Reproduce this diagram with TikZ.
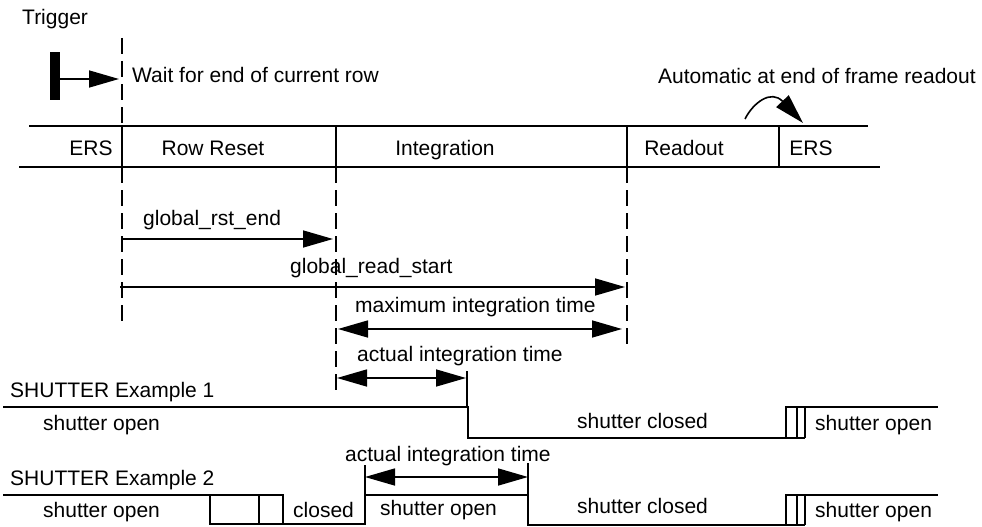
\documentclass[tikz,border=0pt]{standalone}
\usepackage{fontspec}
\setmainfont{Liberation Sans}
\usetikzlibrary{arrows.meta}
\tikzset{
  lbl/.style={inner sep=0pt, anchor=base west, font=\fontsize{21}{25}\selectfont},
  clbl/.style={inner sep=0pt, anchor=base, font=\fontsize{21}{25}\selectfont},
  ln/.style={line width=1.6pt},
  dsh/.style={line width=1.4pt, dash pattern=on 16pt off 7pt},
  arr/.style={ln, -{Triangle[length=30pt,width=17pt]}},
  darr/.style={ln, {Triangle[length=30pt,width=17pt]}-{Triangle[length=30pt,width=17pt]}},
}
\begin{document}
\begin{tikzpicture}[x=1pt,y=-1pt]
\useasboundingbox (0,0) rectangle (982,527);
% texts
\node[lbl] (trig) at (22,25) {Trigger};
\node[lbl] (wait) at (132,82) {Wait for end of current row};
\node[lbl] (auto) at (658,83) {Automatic at end of frame readout};
\node[clbl] (ers1) at (91,155) {ERS};
\node[clbl] (rr) at (213,155) {Row Reset};
\node[clbl] (integ) at (445,155) {Integration};
\node[clbl] (rdo) at (684,155) {Readout};
\node[clbl] (ers2) at (811,155) {ERS};
\node[lbl] (gre) at (143,225) {global\_rst\_end};
\node[lbl] (grs) at (290,273) {global\_read\_start};
\node[lbl] (mit) at (355,312) {maximum integration time};
\node[lbl] (ait1) at (357,361) {actual integration time};
\node[lbl] (se1) at (10,397) {SHUTTER Example 1};
\node[lbl] (so1a) at (43,430) {shutter open};
\node[lbl] (sc1) at (577,428) {shutter closed};
\node[lbl] (so1b) at (815,430) {shutter open};
\node[lbl] (ait2) at (345,461) {actual integration time};
\node[lbl] (se2) at (10,485) {SHUTTER Example 2};
\node[lbl] (so2a) at (43,517) {shutter open};
\node[lbl] (cl2) at (293,517) {closed};
\node[lbl] (so2b) at (380,515) {shutter open};
\node[lbl] (sc2) at (577,513) {shutter closed};
\node[lbl] (so2c) at (815,517) {shutter open};

% trigger
\fill (50,52) rectangle (60,100);
\coordinate (tA) at (60,79);
\coordinate (tB) at (119,79);
\draw[arr] (tA) -- (tB);

% dashed guide lines
\draw[dsh] (122,38) -- (122,126);
\draw[dsh] (122,167) -- (122,323);
\draw[dsh] (336,167) -- (336,393);
\draw[dsh] (627,167) -- (627,345);

% phase bar
\draw[ln] (29,126) -- (868,126);
\draw[ln] (19,167) -- (880,167);
\foreach \x in {122,336,627,779} \draw[ln] (\x,126) -- (\x,167);

% automatic curved arrow
\coordinate (cA) at (745,119);
\coordinate (cB) at (803,123);
\draw[arr] (cA) .. controls (753,103) and (771,89) .. (cB);

% timing arrows
\coordinate (g1a) at (122,239); \coordinate (g1b) at (333,239);
\draw[arr] (g1a) -- (g1b);
\coordinate (g2a) at (120,287); \coordinate (g2b) at (625,287);
\draw[arr] (g2a) -- (g2b);
\coordinate (m1a) at (338,329); \coordinate (m1b) at (622,329);
\draw[darr] (m1a) -- (m1b);
\coordinate (a1a) at (337,378); \coordinate (a1b) at (466,378);
\draw[darr] (a1a) -- (a1b);
\coordinate (a2a) at (365,477); \coordinate (a2b) at (528,477);
\draw[darr] (a2a) -- (a2b);

% shutter example 1
\draw[ln] (3,407) -- (468,407) -- (468,438) -- (805,438);
\draw[ln] (467,371) -- (467,407);
\draw[ln] (786,438) -- (786,407) -- (938,407);
\draw[ln] (797,407) -- (797,438);
\draw[ln] (805,407) -- (805,438);

% shutter example 2
\draw[ln] (3,495) -- (283,495) -- (283,524);
\draw[ln] (210,495) -- (210,524) -- (365,524) -- (365,495) -- (528,495) -- (528,525) -- (805,525);
\draw[ln] (259,495) -- (259,524);
\draw[ln] (365,465) -- (365,495);
\draw[ln] (528,463) -- (528,495);
\draw[ln] (786,525) -- (786,495) -- (938,495);
\draw[ln] (797,495) -- (797,525);
\draw[ln] (805,495) -- (805,525);
\end{tikzpicture}
\end{document}
